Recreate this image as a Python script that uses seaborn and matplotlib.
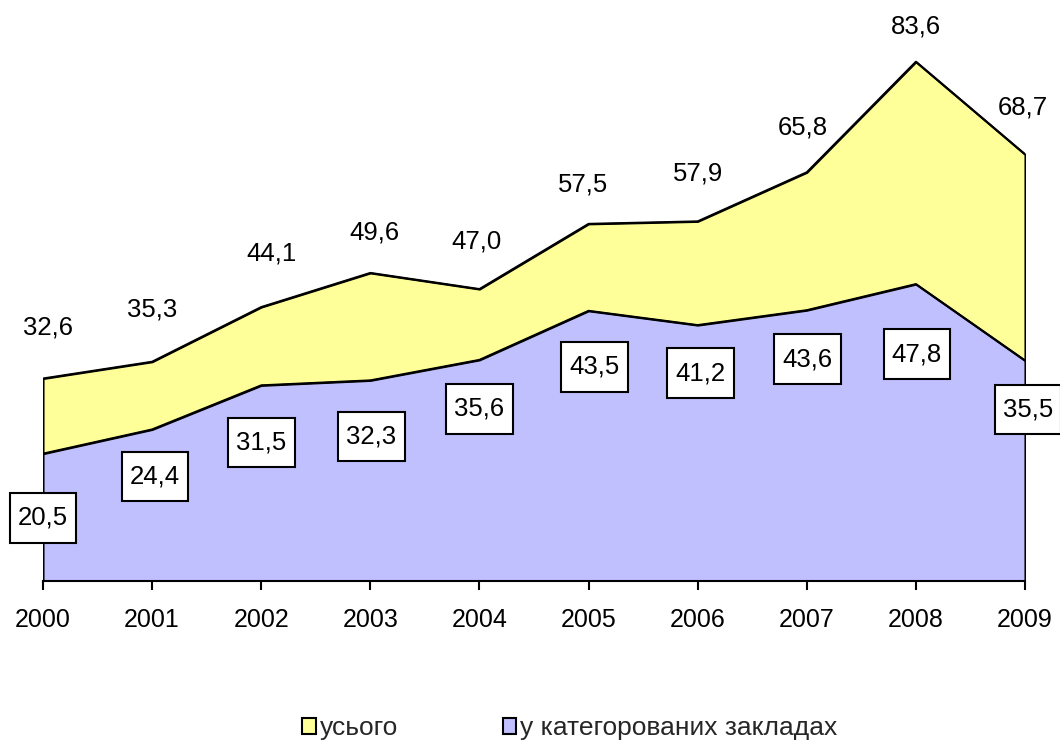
import matplotlib
matplotlib.use("Agg")
import matplotlib.pyplot as plt
from matplotlib.patches import Patch
from matplotlib.path import Path
import seaborn as sns
import pandas as pd

years = [2000, 2001, 2002, 2003, 2004, 2005, 2006, 2007, 2008, 2009]
total = [32.6, 35.3, 44.1, 49.6, 47.0, 57.5, 57.9, 65.8, 83.6, 68.7]
categorized = [20.5, 24.4, 31.5, 32.3, 35.6, 43.5, 41.2, 43.6, 47.8, 35.5]
series_names = ["усього", "у категорованих закладах"]

# label offsets in pixels (dx, dy) relative to data point
top_offsets = [(5, 51), (0, 52), (10, 54), (4, 40), (-3, 48), (-6, 39), (0, 48), (-4, 45), (0, 35), (-2, 47)]
bottom_offsets = [(0, -64), (3, -47), (0, -57), (1, -56), (0, -49), (6, -56), (3, -48), (1, -49), (1, -70), (3, -49)]

sns.set_theme(style="white")
plt.rcParams["font.family"] = ["Liberation Sans", "DejaVu Sans"]

df = pd.DataFrame({"year": years, "total": total, "cat": categorized})

YELLOW = "#FFFF99"
LAVENDER = "#C0C0FF"


def label_box(x0, y0, width, height, mutation_size):
    px = 0.32 * mutation_size
    py = 0.50 * mutation_size
    xa, ya = x0 - px, y0 - py
    xb, yb = x0 + width + px, y0 + height + py
    verts = [(xa, ya), (xb, ya), (xb, yb), (xa, yb), (xa, ya)]
    codes = [Path.MOVETO, Path.LINETO, Path.LINETO, Path.LINETO, Path.CLOSEPOLY]
    return Path(verts, codes)


fig = plt.figure(figsize=(10.6, 7.4), dpi=100)
ax = fig.add_axes([43 / 1060, 159 / 740, 982 / 1060, 559 / 740])

ax.fill_between(df["year"], 0, df["total"], facecolor=YELLOW, edgecolor="black", linewidth=1.5, zorder=1)
ax.fill_between(df["year"], 0, df["cat"], facecolor=LAVENDER, edgecolor="black", linewidth=1.5, zorder=2)
sns.lineplot(data=df, x="year", y="total", color="black", linewidth=1.5, ax=ax, zorder=3)
sns.lineplot(data=df, x="year", y="cat", color="black", linewidth=1.5, ax=ax, zorder=3)

ax.set_xlim(2000, 2009)
ax.set_ylim(0, 90)
ax.set_xlabel("")
ax.set_ylabel("")
ax.set_yticks([])
ax.set_xticks(years)
ax.set_xticklabels([str(y) for y in years], fontsize=18, color="black")
ax.tick_params(axis="x", direction="out", length=6.5, width=1.5, color="black", pad=13, bottom=True)
for s in ["left", "right", "top"]:
    ax.spines[s].set_visible(False)
ax.spines["bottom"].set_color("black")
ax.spines["bottom"].set_linewidth(1.5)
ax.spines["bottom"].set_zorder(4)


def fmt(v):
    return f"{v:.1f}".replace(".", ",")


for x, v, (dx, dy) in zip(years, total, top_offsets):
    ax.annotate(fmt(v), (x, v), xytext=(dx, dy), textcoords="offset pixels",
                ha="center", va="center", fontsize=18.5, color="black", zorder=5,
                annotation_clip=False)

for x, v, (dx, dy) in zip(years, categorized, bottom_offsets):
    ax.annotate(fmt(v), (x, v), xytext=(dx, dy), textcoords="offset pixels",
                ha="center", va="center", fontsize=18.5, color="black", zorder=6,
                annotation_clip=False,
                bbox=dict(boxstyle=label_box, facecolor="white", edgecolor="black", linewidth=1.5))

handles = [Patch(facecolor=YELLOW, edgecolor="black", linewidth=1.5),
           Patch(facecolor=LAVENDER, edgecolor="black", linewidth=1.5)]
fig.legend(handles, series_names, loc="center", bbox_to_anchor=(570 / 1060, 1 - 728 / 740),
           ncol=2, frameon=False, fontsize=19, handlelength=0.5, handleheight=0.55,
           handletextpad=0.15, columnspacing=4.0, borderpad=0.1)

fig.savefig("out.png", dpi=100)
